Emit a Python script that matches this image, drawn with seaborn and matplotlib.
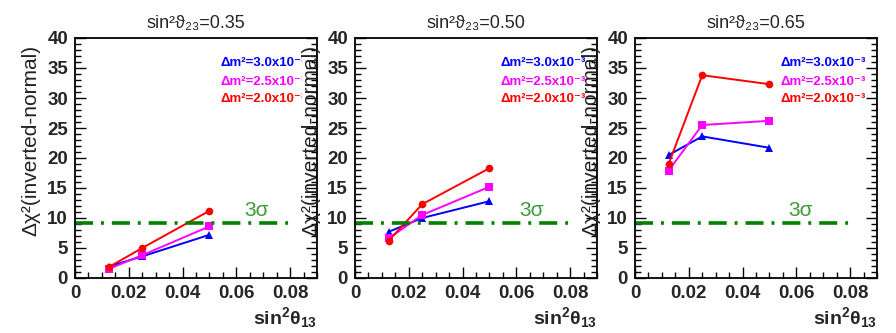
import numpy as np
import pandas as pd
import seaborn as sns
import matplotlib.pyplot as plt
from matplotlib.transforms import Bbox
from matplotlib.ticker import MultipleLocator

# values
sin2_th13 = [0.0125, 0.025, 0.05]
panel_titles = ["sin²ϑ₂₃=0.35", "sin²ϑ₂₃=0.50", "sin²ϑ₂₃=0.65"]
dm_labels = ["Δm²=3.0x10⁻³", "Δm²=2.5x10⁻³", "Δm²=2.0x10⁻³"]

chi2_dm30 = [[1.9, 3.6, 7.2], [7.7, 10.0, 12.8], [20.5, 23.6, 21.7]]
chi2_dm25 = [[1.5, 3.8, 8.6], [6.6, 10.5, 15.2], [17.9, 25.5, 26.2]]
chi2_dm20 = [[1.8, 5.0, 11.2], [6.2, 12.3, 18.3], [19.0, 33.8, 32.3]]

three_sigma = 9.2
three_sigma_end = 0.08
xtick_vals = [0, 0.02, 0.04, 0.06, 0.08]
xtick_labels = ["0", "0.02", "0.04", "0.06", "0.08"]
ytick_vals = [0, 5, 10, 15, 20, 25, 30, 35, 40]

colors = {dm_labels[0]: "#0000ff", dm_labels[1]: "#ff00ff", dm_labels[2]: "#ff0000"}
markers = {dm_labels[0]: "^", dm_labels[1]: "s", dm_labels[2]: "o"}

sns.set_style("ticks")
plt.rcParams['font.family'] = ['Liberation Sans', 'DejaVu Sans']
plt.rcParams['mathtext.fontset'] = 'custom'
plt.rcParams['mathtext.rm'] = 'Liberation Sans'
plt.rcParams['mathtext.it'] = 'Liberation Sans'
plt.rcParams['mathtext.bf'] = 'Liberation Sans:bold'

fig = plt.figure(figsize=(8.96, 3.33), dpi=100)
W, H = 896.0, 333.0
lefts = [75, 355, 635]
sigma_x = [0.063, 0.061, 0.057]
# where the next panel's axis title starts (legend text is cut there)
cut_px = [302, 585, 896]

axes = []
for i in range(3):
    ax = fig.add_axes([lefts[i] / W, (H - 278) / H, 242 / W, 240 / H])
    axes.append(ax)
    rows = []
    for lab, vals in zip(dm_labels, [chi2_dm30, chi2_dm25, chi2_dm20]):
        for x, y in zip(sin2_th13, vals[i]):
            rows.append({"x": x, "y": y, "dm": lab})
    df = pd.DataFrame(rows)
    sns.lineplot(data=df, x="x", y="y", hue="dm", style="dm", palette=colors,
                 markers=markers, dashes=False, linewidth=1.4, markersize=5.5,
                 markeredgewidth=0, legend=False, ax=ax)

    ax.plot([0, three_sigma_end], [three_sigma, three_sigma], color="#008000",
            lw=2.6, linestyle=(0, (5, 2.2, 0.8, 2.2)))
    ax.text(sigma_x[i], 10.4, "3σ", color="#3c9a3c", fontsize=15)

    clip = Bbox.from_extents(0, 0, cut_px[i], H)
    for k, lab in enumerate(dm_labels):
        t = ax.text(0.054, [35.8, 32.7, 29.8][k], lab, color=colors[lab],
                    fontsize=9.5, fontweight="bold", va="center")
        t.set_clip_box(clip)
        t.set_clip_on(True)

    ax.set_xlim(0, 0.09)
    ax.set_ylim(0, 40)
    ax.set_xticks(xtick_vals)
    ax.set_xticklabels(xtick_labels)
    ax.set_yticks(ytick_vals)
    ax.xaxis.set_minor_locator(MultipleLocator(0.005))
    ax.yaxis.set_minor_locator(MultipleLocator(1))
    ax.tick_params(which="both", direction="in", right=True, top=False,
                   labelsize=13.5, width=1, color="black", pad=5)
    ax.tick_params(which="major", length=8)
    ax.tick_params(which="minor", length=4)
    for t in ax.get_xticklabels() + ax.get_yticklabels():
        t.set_fontweight("bold")
    for s in ax.spines.values():
        s.set_visible(True)
        s.set_linewidth(1.3)
        s.set_color("black")

    ax.set_title(panel_titles[i], fontsize=13, pad=7)
    ax.set_xlabel(r"$\mathbf{sin^{2}\theta_{13}}$", fontsize=14, loc="right")
    ax.xaxis.set_label_coords(1.0, -0.115)
    ax.set_ylabel("Δχ²(inverted-normal)", fontsize=15, loc="top", color="#222222")
    ax.yaxis.set_label_coords(-0.145, 0.97)

fig.savefig("out.png", dpi=100)
